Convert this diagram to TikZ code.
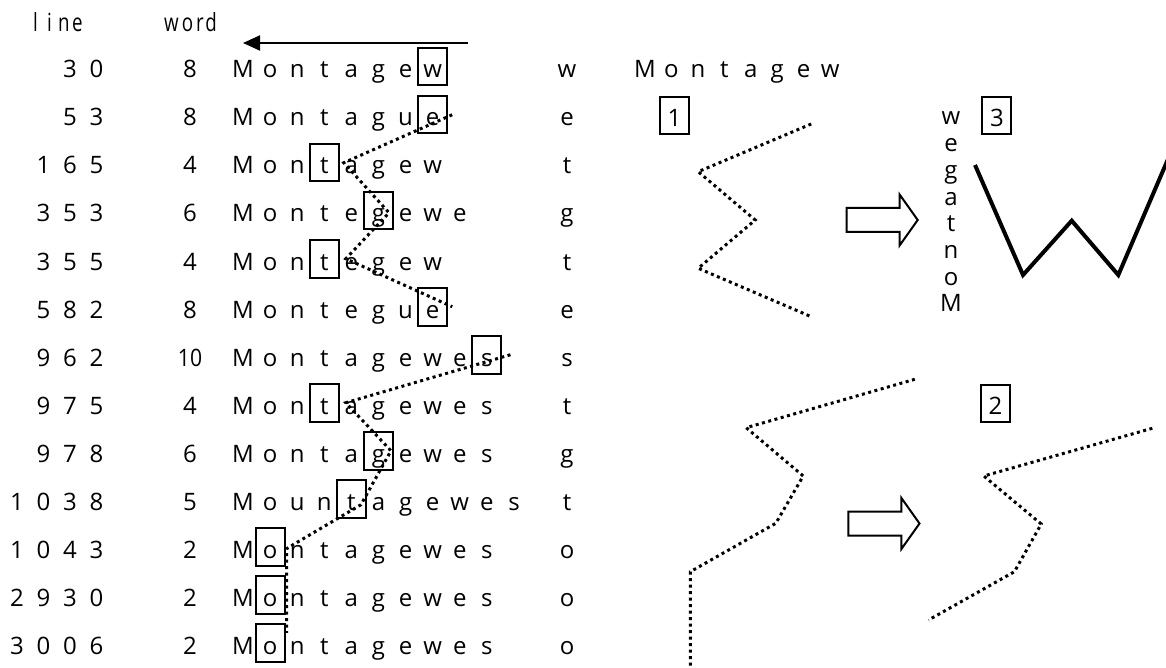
\documentclass[tikz,border=0pt]{standalone}
\usepackage{fontspec}
\usepackage{graphicx}
\setmainfont{Open Sans}
\usetikzlibrary{arrows.meta,calc}
\newcommand\wrow[6]{%
  \pgfmathsetmacro\rowbase{78+48*#1}%
  \foreach \d [count=\k from 0] in {#2} {\node[ch] (n#1-\k) at ({96.5-26.5*\k},\rowbase) {\d};}%
  \node[ch] (c#1) at (190,\rowbase) {#3};%
  \foreach \c [count=\k from 0] in {#4} {\node[ch] (w#1-\k) at ({243+27.1*\k},\rowbase) {\c};}%
  \node[letterbox] (b#1) at ({243+27.1*#5},{\rowbase-11.25}) {};%
  \node[ch] (r#1) at (567,\rowbase) {#6};%
}
\begin{document}
\begin{tikzpicture}[x=1pt,y=-1pt,
  ch/.style={anchor=base,inner sep=0pt,font=\fontsize{24}{24}\selectfont},
  hd/.style={anchor=base,inner sep=0pt,font=\fontsize{25}{25}\selectfont},
  letterbox/.style={draw,line width=2pt,minimum width=29pt,minimum height=37.5pt,inner sep=0pt},
  labelbox/.style={draw,line width=2pt,minimum width=29pt,minimum height=37.5pt,inner sep=0pt,text height=22.5pt,text depth=0pt,font=\fontsize{24}{24}\selectfont},
  dotline/.style={line width=3pt,dash pattern=on 3pt off 3.5pt},
  solidW/.style={line width=4pt,line join=miter},
  hollow/.style={line width=2pt,line join=miter}]
\useasboundingbox (0,0) rectangle (1166,668);
% headers
\foreach \c/\x [count=\k] in {l/35.5,i/49.5,n/64,e/77.5} {\node[hd] (hl\k) at (\x,32) {\scalebox{0.75}[1]{\c}};}
\foreach \c/\x [count=\k] in {w/171.5,o/187.5,r/200,d/211} {\node[hd] (hw\k) at (\x,32) {\scalebox{0.75}[1]{\c}};}
% top arrow
\coordinate (arrS) at (468,43);
\coordinate (arrE) at (243,43);
\draw[line width=2pt,-{Triangle[length=17pt,width=15pt]}] (arrS) -- (arrE);
% rows
\wrow{0}{0,3}{8}{M,o,n,t,a,g,e,w}{7}{w}
\wrow{1}{3,5}{8}{M,o,n,t,a,g,u,e}{7}{e}
\wrow{2}{5,6,1}{4}{M,o,n,t,a,g,e,w}{3}{t}
\wrow{3}{3,5,3}{6}{M,o,n,t,e,g,e,w,e}{5}{g}
\wrow{4}{5,5,3}{4}{M,o,n,t,e,g,e,w}{3}{t}
\wrow{5}{2,8,5}{8}{M,o,n,t,e,g,u,e}{7}{e}
\wrow{6}{2,6,9}{\scalebox{0.88}[1]{10}}{M,o,n,t,a,g,e,w,e,s}{9}{s}
\wrow{7}{5,7,9}{4}{M,o,n,t,a,g,e,w,e,s}{3}{t}
\wrow{8}{8,7,9}{6}{M,o,n,t,a,g,e,w,e,s}{5}{g}
\wrow{9}{8,3,0,1}{5}{M,o,u,n,t,a,g,e,w,e,s}{4}{t}
\wrow{10}{3,4,0,1}{2}{M,o,n,t,a,g,e,w,e,s}{1}{o}
\wrow{11}{0,3,9,2}{2}{M,o,n,t,a,g,e,w,e,s}{1}{o}
\wrow{12}{6,0,0,3}{2}{M,o,n,t,a,g,e,w,e,s}{1}{o}
% dotted connectors between boxes
\draw[dotline] ($(b1.east)+(4,0)$) -- ($(b2.east)+(4,0)$) -- ($(b3.east)+(-5,2)$) -- ($(b4.east)+(6,0)$) -- ($(b5.east)+(4,0)$);
\draw[dotline] ($(b6.east)+(8,0)$) -- ($(b7.east)+(6,0)$) -- ($(b8.east)+(-3,0)$) -- ($(b9.east)+(-6,6)$) -- ($(b10.east)+(4,0)$) -- ($(b10.east)+(1,2)$) -- ($(b12.east)+(1,-10)$);
% right Montagew
\foreach \c [count=\k from 0] in {M,o,n,t,a,g,e,w} {\node[ch] (m\k) at ({645+26.45*\k},78) {\c};}
% vertical wegatnoM
\foreach \c [count=\k from 0] in {w,e,g,a,t,n,o,M} {\node[ch] (v\k) at (951,{125+26.7*\k}) {\c};}
% label boxes
\node[labelbox] (L1) at (674.5,115.75) {1};
\node[labelbox] (L3) at (996.9,115.75) {3};
\node[labelbox] (L2) at (995.5,403.5) {2};
% zigzag 1
\draw[dotline] (811.2,124) -- (698.2,171.7) -- (755.2,220) -- (698.2,268.3) -- (811.2,316.7);
% W
\draw[solidW] (975,165) -- (1023,275) -- (1071.7,220.7) -- (1118.3,275) -- (1171.9,150);
% hollow arrows
\draw[hollow] (846.6,208) -- (899.6,208) -- (899.6,194.5) -- (917.7,220) -- (899.6,245.5) -- (899.6,232) -- (846.6,232) -- cycle;
\draw[hollow] (848.4,511.5) -- (901.4,511.5) -- (901.4,498) -- (919.5,523.5) -- (901.4,549) -- (901.4,535.5) -- (848.4,535.5) -- cycle;
% lower shapes
\draw[dotline] (914.8,379.3) -- (746.2,427.7) -- (803.2,476) -- (775.8,523.3) -- (690.3,571.7) -- (690.3,672);
\draw[dotline] (1152.3,428.3) -- (983.8,476) -- (1041.2,524) -- (1014.4,571.7) -- (928.5,620);
\end{tikzpicture}
\end{document}
